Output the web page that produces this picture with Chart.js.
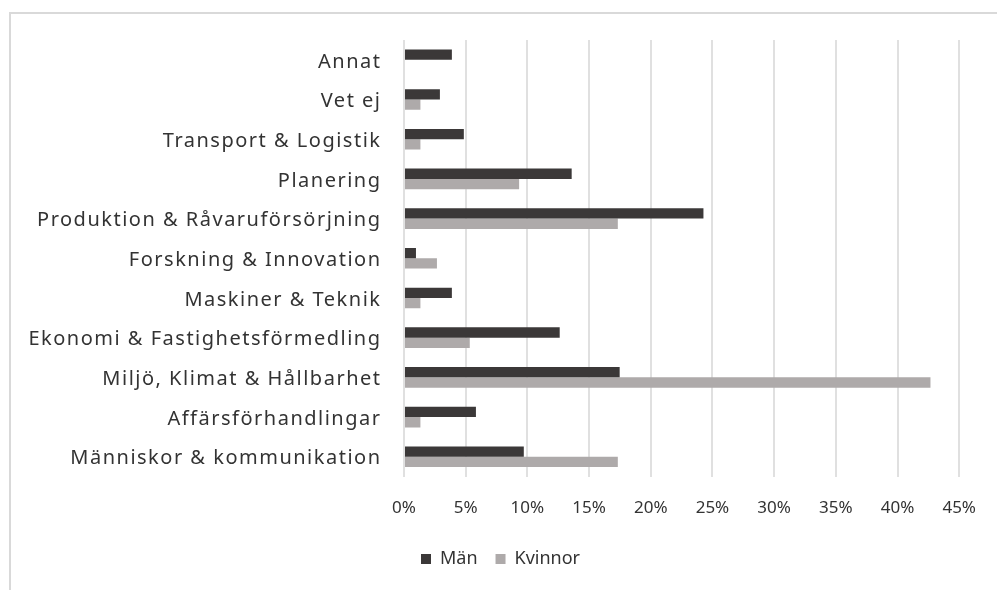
<!DOCTYPE html>
<html>
<head>
<meta charset="utf-8">
<script src="https://cdn.jsdelivr.net/npm/chart.js@4"></script>
<style>
  html, body { margin: 0; padding: 0; background: #ffffff; overflow: hidden; }
  #wrap { position: relative; width: 997px; height: 590px; }
  #frame { position: absolute; left: 9px; top: 12px; width: 1000px; height: 600px;
           border-left: 2px solid #d9d9d9; border-top: 2px solid #d9d9d9; box-sizing: border-box; }
  #c { position: absolute; left: 0; top: 0; }
</style>
</head>
<body>
<div id="wrap">
  <div id="frame"></div>
  <canvas id="c" width="997" height="590"></canvas>
</div>
<script>
const categories = [
  "Annat",
  "Vet ej",
  "Transport & Logistik",
  "Planering",
  "Produktion & Råvaruförsörjning",
  "Forskning & Innovation",
  "Maskiner & Teknik",
  "Ekonomi & Fastighetsförmedling",
  "Miljö, Klimat & Hållbarhet",
  "Affärsförhandlingar",
  "Människor & kommunikation"
];
const seriesNames = ["Män", "Kvinnor"];
const manValues = [3.88, 2.91, 4.85, 13.59, 24.27, 0.97, 3.88, 12.62, 17.48, 5.83, 9.71];
const kvinnorValues = [0, 1.33, 1.33, 9.33, 17.33, 2.67, 1.33, 5.33, 42.67, 1.33, 17.33];
const xTicks = [0, 5, 10, 15, 20, 25, 30, 35, 40, 45];

const FONT = "'Noto Sans', 'Open Sans', sans-serif";

const tweaks = {
  id: 'tweaks',
  afterLayout(chart) {
    const y = chart.scales.y;
    if (y && !y._spacedLabels) {
      const orig = y.drawLabels.bind(y);
      y.drawLabels = function (area) {
        const ctx = this.ctx;
        ctx.save();
        ctx.letterSpacing = '1.5px';
        orig(area);
        ctx.restore();
      };
      y._spacedLabels = true;
    }
    if (chart.legend) {
      chart.legend.left += 18;
      chart.legend.right += 18;
    }
  }
};

new Chart(document.getElementById('c'), {
  type: 'bar',
  data: {
    labels: categories,
    datasets: [
      { label: seriesNames[0], data: manValues, backgroundColor: '#3b3838', categoryPercentage: 0.52, barPercentage: 1.0 },
      { label: seriesNames[1], data: kvinnorValues, backgroundColor: '#aeaaaa', categoryPercentage: 0.52, barPercentage: 1.0 }
    ]
  },
  plugins: [tweaks],
  options: {
    indexAxis: 'y',
    responsive: false,
    animation: false,
    layout: { padding: { top: 40, right: 32, left: 0, bottom: 12 } },
    plugins: {
      tooltip: { enabled: false },
      legend: {
        position: 'bottom',
        labels: {
          boxWidth: 10, boxHeight: 10, padding: 18,
          color: '#333333',
          font: { family: FONT, size: 18 }
        }
      }
    },
    scales: {
      x: {
        min: 0, max: 45,
        afterBuildTicks: (s) => { s.ticks = xTicks.map(v => ({ value: v })); },
        afterFit: (s) => { s.height -= 7; },
        grid: { color: '#e0e0e0', lineWidth: 2, drawTicks: false },
        border: { display: false },
        ticks: {
          padding: 21,
          color: '#333333',
          font: { family: FONT, size: 17 },
          callback: (v) => v + '%'
        }
      },
      y: {
        afterFit: (s) => { s.width = 404; },
        grid: { display: false, drawTicks: false },
        border: { display: false },
        ticks: {
          padding: 22.5,
          labelOffset: 2,
          color: '#333333',
          font: { family: FONT, size: 20 }
        }
      }
    }
  }
});
</script>
</body>
</html>
